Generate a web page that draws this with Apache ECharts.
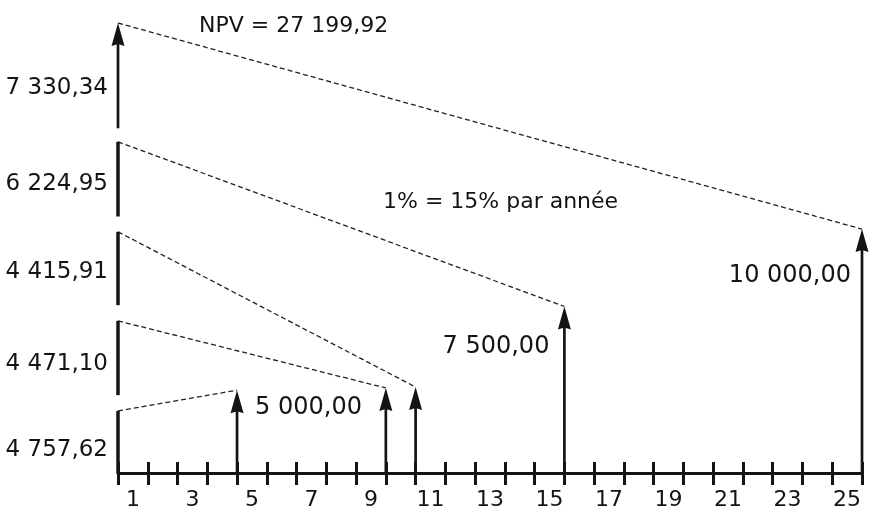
<!DOCTYPE html>
<html>
<head>
<meta charset="utf-8">
<script src="https://cdn.jsdelivr.net/npm/echarts@6/dist/echarts.min.js"></script>
<style>html,body{margin:0;padding:0;background:#fff}#c{width:870px;height:517px}</style>
</head>
<body>
<div id="c"></div>
<script>
// ---- data ----
const periods = ['1','2','3','4','5','6','7','8','9','10','11','12','13','14','15','16','17','18','19','20','21','22','23','24','25'];
const flowTimes = [4, 9, 10, 15, 25];
const flowHeights = [18.4, 18.9, 19.1, 37.0, 54.2];          // diagram height units
const flowLabels = ['5 000,00', '', '', '7 500,00', '10 000,00'];
const pvLow = [0, 17.3, 37.3, 57.0, 76.6];
const pvHigh = [13.8, 33.8, 53.6, 73.6, 100];
const pvLabels = ['4 757,62', '4 471,10', '4 415,91', '6 224,95', '7 330,34'];
const npvText = 'NPV = 27 199,92';
const rateText = '1% = 15% par année';

// ---- style ----
const INK = '#141414';
const FONT = 'DejaVu Sans';
const flowLabelLayout = [
  {dx: 18, dy: 18, align: 'left'},
  null, null,
  {dx: -15, dy: 40, align: 'right'},
  {dx: -11, dy: 47, align: 'right'}
];
const pvLabelShift = [8, 6, 4, 5, 12];

function arrowHead(x, y) {
  return {
    type: 'polygon',
    shape: {points: [[x, y], [x - 6.5, y + 23], [x, y + 21], [x + 6.5, y + 23]]},
    style: {fill: INK}
  };
}

const chart = echarts.init(document.getElementById('c'));
chart.setOption({
  animation: false,
  backgroundColor: '#fff',
  title: [
    {text: npvText, left: 199, top: 15, padding: 0,
     textStyle: {fontFamily: FONT, fontSize: 22, fontWeight: 'normal', color: INK}},
    {text: rateText, left: 383, top: 191, padding: 0,
     textStyle: {fontFamily: FONT, fontSize: 22, fontWeight: 'normal', color: INK}}
  ],
  grid: {left: 118, right: 8, top: 23, bottom: 44, containLabel: false},
  xAxis: [
    {type: 'value', min: 0, max: 25, interval: 1, position: 'bottom',
     axisLine: {show: false, onZero: false},
     axisTick: {show: true, inside: true, length: 11, lineStyle: {width: 3, color: INK}},
     axisLabel: {show: false}, splitLine: {show: false}},
    {type: 'category', data: periods, boundaryGap: true, position: 'bottom',
     axisLine: {show: true, onZero: false, lineStyle: {width: 3, color: INK}},
     axisTick: {show: true, interval: 0, length: 12, lineStyle: {width: 3, color: INK}},
     axisLabel: {interval: 1, margin: 16, fontFamily: FONT, fontSize: 22, color: INK},
     splitLine: {show: false}}
  ],
  yAxis: {type: 'value', min: 0, max: 100, show: false},
  series: [
    {
      type: 'lines', coordinateSystem: 'cartesian2d', xAxisIndex: 0, yAxisIndex: 0,
      silent: true, z: 1,
      lineStyle: {color: '#222', width: 1.3, type: [5, 3], opacity: 1},
      data: pvHigh.map((h, i) => ({coords: [[0, h], [flowTimes[i], flowHeights[i]]]}))
    },
    {
      type: 'custom', xAxisIndex: 0, yAxisIndex: 0, z: 3, silent: true,
      data: flowTimes.map((t, i) => [t, flowHeights[i], i]),
      renderItem: function (params, api) {
        const t = api.value(0), h = api.value(1), i = api.value(2);
        const base = api.coord([t, 0]);
        const tip = api.coord([t, h]);
        const children = [
          {type: 'line', shape: {x1: base[0], y1: base[1], x2: tip[0], y2: tip[1] + 20},
           style: {stroke: INK, lineWidth: 2.7}},
          arrowHead(tip[0], tip[1])
        ];
        const lay = flowLabelLayout[i];
        if (lay && flowLabels[i]) {
          children.push({type: 'text', x: tip[0] + lay.dx, y: tip[1] + lay.dy,
            style: {text: flowLabels[i], align: lay.align, verticalAlign: 'middle',
                    font: '24px "' + FONT + '"', fill: INK}});
        }
        return {type: 'group', children: children};
      }
    },
    {
      type: 'custom', xAxisIndex: 0, yAxisIndex: 0, z: 3, silent: true,
      data: pvLow.map((lo, i) => [0, lo, pvHigh[i], i]),
      renderItem: function (params, api) {
        const lo = api.value(1), hi = api.value(2), i = api.value(3);
        const p0 = api.coord([0, lo]);
        const p1 = api.coord([0, hi]);
        const isTop = i === pvLow.length - 1;
        const children = [
          {type: 'line', shape: {x1: p0[0], y1: p0[1], x2: p1[0], y2: isTop ? p1[1] + 20 : p1[1]},
           style: {stroke: INK, lineWidth: isTop ? 2.7 : 3.5}}
        ];
        if (isTop) children.push(arrowHead(p1[0], p1[1]));
        children.push({type: 'text', x: p0[0] - 10, y: (p0[1] + p1[1]) / 2 + pvLabelShift[i],
          style: {text: pvLabels[i], align: 'right', verticalAlign: 'middle',
                  font: '23px "' + FONT + '"', fill: INK}});
        return {type: 'group', children: children};
      }
    }
  ]
});
</script>
</body>
</html>
